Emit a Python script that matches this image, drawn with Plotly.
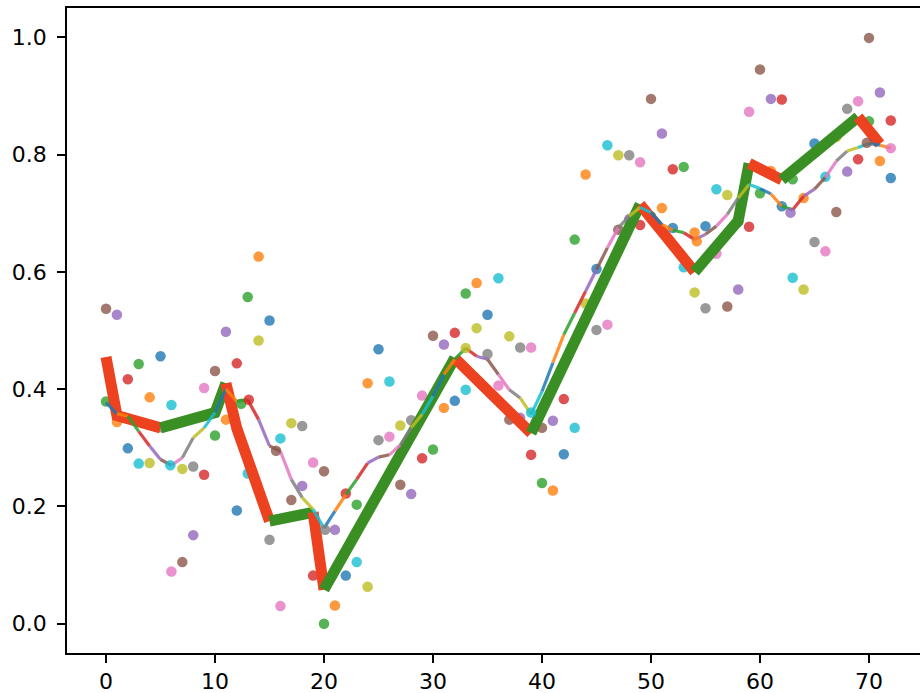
import plotly.graph_objects as go

TAB10 = ["#1f77b4", "#ff7f0e", "#2ca02c", "#d62728", "#9467bd",
         "#8c564b", "#e377c2", "#7f7f7f", "#bcbd22", "#17becf"]

# ---------------- data ----------------
x_index = list(range(73))

series_a = [0.537, 0.527, 0.417, 0.443, 0.386, 0.456, 0.373, 0.264, 0.268, 0.402,
            0.431, 0.498, 0.444, 0.557, 0.626, 0.517, 0.316, 0.342, 0.337, 0.275,
            0.260, 0.160, 0.222, 0.203, 0.410, 0.468, 0.413, 0.338, 0.347, 0.389,
            0.491, 0.476, 0.496, 0.563, 0.581, 0.527, 0.589, 0.490, 0.471, 0.471,
            0.334, 0.346, 0.383, 0.655, 0.766, 0.605, 0.816, 0.799, 0.799, 0.787,
            0.895, 0.836, 0.775, 0.779, 0.667, 0.678, 0.741, 0.731, 0.685, 0.873,
            0.945, 0.895, 0.894, 0.758, 0.726, 0.819, 0.762, 0.830, 0.878, 0.891,
            0.999, 0.906, 0.858]

series_b = [0.379, 0.344, 0.299, 0.273, 0.274, 0.335, 0.089, 0.105, 0.151, 0.254,
            0.321, 0.348, 0.193, 0.256, 0.483, 0.143, 0.030, 0.211, 0.235, 0.082,
            0.000, 0.031, 0.082, 0.105, 0.063, 0.313, 0.319, 0.237, 0.221, 0.282,
            0.297, 0.368, 0.380, 0.399, 0.504, 0.460, 0.406, 0.348, 0.351, 0.288,
            0.240, 0.227, 0.289, 0.334, 0.546, 0.501, 0.510, 0.672, 0.690, 0.680,
            0.695, 0.709, 0.675, 0.608, 0.565, 0.538, 0.631, 0.541, 0.570, 0.677,
            0.734, 0.772, 0.712, 0.590, 0.570, 0.651, 0.635, 0.702, 0.771, 0.792,
            0.857, 0.789, 0.760]

smooth = [0.377, 0.358, 0.354, 0.328, 0.303, 0.280, 0.270, 0.283, 0.317, 0.334,
          0.360, 0.400, 0.379, 0.382, 0.348, 0.303, 0.294, 0.246, 0.215, 0.195,
          0.163, 0.192, 0.220, 0.246, 0.274, 0.284, 0.288, 0.305, 0.334, 0.357,
          0.388, 0.425, 0.451, 0.470, 0.456, 0.451, 0.425, 0.399, 0.385, 0.357,
          0.396, 0.445, 0.493, 0.530, 0.567, 0.604, 0.641, 0.675, 0.695, 0.710,
          0.701, 0.681, 0.671, 0.667, 0.655, 0.664, 0.678, 0.698, 0.726, 0.749,
          0.742, 0.733, 0.712, 0.706, 0.729, 0.741, 0.761, 0.789, 0.806, 0.812,
          0.819, 0.816, 0.811]

extrema_x = [5.9, 12.4, 13.1, 15.6, 20.1, 33.0, 39.0, 54.2, 62.8, 69.8, 72.0]
extrema_y = [0.270, 0.375, 0.382, 0.295, 0.160, 0.470, 0.360, 0.652, 0.701, 0.820, 0.811]
extrema_color = [9, 2, 3, 5, 7, 8, 9, 1, 4, 5, 6]

zig_x = [0, 1, 5, 10, 11, 12, 15, 19, 20, 32, 39, 49, 54, 58, 59, 62, 69, 71]
zig_y = [0.455, 0.355, 0.334, 0.360, 0.410, 0.333, 0.175, 0.190, 0.058, 0.453,
         0.325, 0.715, 0.600, 0.687, 0.785, 0.757, 0.864, 0.818]

x_ticks = [0, 10, 20, 30, 40, 50, 60, 70]
y_ticks = [0.0, 0.2, 0.4, 0.6, 0.8, 1.0]

# ---------------- helpers ----------------
def rgba(hex_color, alpha):
    h = hex_color.lstrip("#")
    r, g, b = int(h[0:2], 16), int(h[2:4], 16), int(h[4:6], 16)
    return f"rgba({r},{g},{b},{alpha})"

fig = go.Figure()

# scatter points (two interleaved colour cycles)
fig.add_trace(go.Scatter(
    x=x_index, y=series_a, mode="markers",
    marker=dict(size=10.5, color=[rgba(TAB10[(5 - i) % 10], 0.8) for i in x_index],
                line=dict(width=0)),
    showlegend=False, hoverinfo="skip"))
fig.add_trace(go.Scatter(
    x=x_index, y=series_b, mode="markers",
    marker=dict(size=10.5, color=[rgba(TAB10[(2 - i) % 10], 0.8) for i in x_index],
                line=dict(width=0)),
    showlegend=False, hoverinfo="skip"))

# thick zig-zag legs: red when falling, green when rising
legs = []
cur = [0]
for k in range(1, len(zig_x)):
    if len(cur) >= 2:
        prev_up = zig_y[cur[-1]] > zig_y[cur[-2]]
        now_up = zig_y[k] > zig_y[cur[-1]]
        if prev_up != now_up:
            legs.append(cur)
            cur = [cur[-1]]
    cur.append(k)
legs.append(cur)
for leg in legs:
    up = zig_y[leg[-1]] > zig_y[leg[0]]
    fig.add_trace(go.Scatter(
        x=[zig_x[k] for k in leg], y=[zig_y[k] for k in leg], mode="lines",
        line=dict(color="#3a8f24" if up else "#ec4220", width=11),
        showlegend=False, hoverinfo="skip"))

# thin smooth curve, segment colours cycling through tab10
for c in range(10):
    xs, ys = [], []
    for i in range(len(x_index) - 1):
        if i % 10 == c:
            xs += [x_index[i], x_index[i + 1], None]
            ys += [smooth[i], smooth[i + 1], None]
    fig.add_trace(go.Scatter(
        x=xs, y=ys, mode="lines",
        line=dict(color=rgba(TAB10[c], 0.85), width=3.2),
        showlegend=False, hoverinfo="skip"))

# markers on the curve's turning points
fig.add_trace(go.Scatter(
    x=extrema_x, y=extrema_y, mode="markers",
    marker=dict(size=10.5, color=[rgba(TAB10[c], 0.8) for c in extrema_color],
                line=dict(width=0)),
    showlegend=False, hoverinfo="skip"))

axis_common = dict(
    showgrid=False, zeroline=False, showline=True, linecolor="black", linewidth=1.8,
    ticks="outside", ticklen=8, tickwidth=1.8, tickcolor="black",
    tickfont=dict(family="DejaVu Sans", size=22, color="black"),
)

fig.update_layout(
    width=920, height=693,
    margin=dict(l=67, r=0, t=8, b=40),
    paper_bgcolor="white", plot_bgcolor="white",
    xaxis=dict(range=[-3.58, 74.68], tickvals=x_ticks,
               ticktext=[str(v) for v in x_ticks], mirror=True, **axis_common),
    yaxis=dict(range=[-0.05, 1.05], tickvals=y_ticks, ticklabelstandoff=6,
               ticktext=[f"{v:.1f}" for v in y_ticks], mirror=False, **axis_common),
)

fig.write_html("out.html")
